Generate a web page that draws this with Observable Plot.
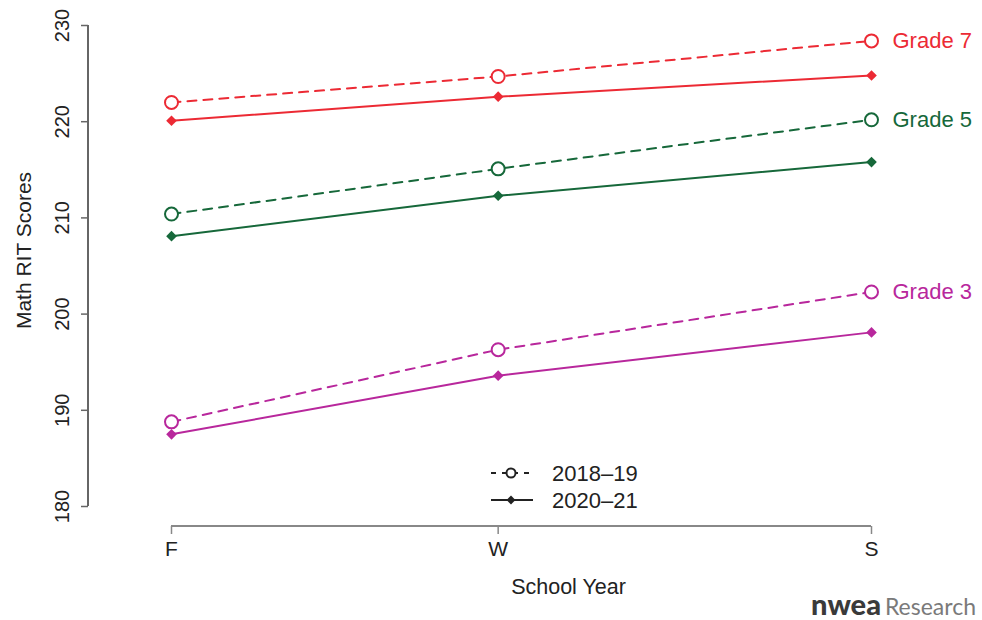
<!DOCTYPE html>
<html>
<head>
<meta charset="utf-8">
<script src="https://cdn.jsdelivr.net/npm/d3@7"></script>
<script src="https://cdn.jsdelivr.net/npm/@observablehq/plot@0.6"></script>
<style>
  html, body { margin: 0; padding: 0; background: #fff; }
  #chart { width: 982px; height: 620px; overflow: hidden; }
</style>
</head>
<body>
<div id="chart"></div>
<script>
// ---- data ----
const terms = ["F", "W", "S"];
const termWeeks = [3, 17, 33];             // approximate week of each test window
const grades = ["Grade 7", "Grade 5", "Grade 3"];
const gradeColors = ["#ec2a34", "#16683a", "#b8279c"];
const years = ["2018–19", "2020–21"];
const yTicks = [180, 190, 200, 210, 220, 230];
const xTitle = "School Year";
const yTitle = "Math RIT Scores";

const g7_1819 = [222.0, 224.7, 228.4];
const g7_2021 = [220.1, 222.6, 224.8];
const g5_1819 = [210.4, 215.1, 220.2];
const g5_2021 = [208.1, 212.3, 215.8];
const g3_1819 = [188.8, 196.3, 202.3];
const g3_2021 = [187.5, 193.6, 198.1];

const series = [
  {grade: "Grade 7", year: years[0], values: g7_1819},
  {grade: "Grade 7", year: years[1], values: g7_2021},
  {grade: "Grade 5", year: years[0], values: g5_1819},
  {grade: "Grade 5", year: years[1], values: g5_2021},
  {grade: "Grade 3", year: years[0], values: g3_1819},
  {grade: "Grade 3", year: years[1], values: g3_2021}
];
const rows = series.flatMap(s => s.values.map((v, i) => ({
  grade: s.grade, year: s.year, term: terms[i], week: termWeeks[i], score: v
})));
const old = rows.filter(d => d.year === years[0]);
const cur = rows.filter(d => d.year === years[1]);

// ---- layout ----
const W = 982, H = 620;
const mLeft = 88, mRight = 28, mTop = 0, mBottom = 94;
const font = "'Liberation Sans', Arial, Helvetica, sans-serif";

const chart = Plot.plot({
  width: W, height: H,
  marginLeft: mLeft, marginRight: mRight, marginTop: mTop, marginBottom: mBottom,
  style: {fontFamily: font, background: "#fff", color: "#222"},
  x: {type: "linear", domain: [termWeeks[0], termWeeks[2]], range: [171, 871]},
  y: {domain: [yTicks[0], yTicks[yTicks.length - 1]], range: [506, 25]},
  color: {domain: grades, range: gradeColors},
  marks: [
    Plot.axisY({ticks: yTicks, tickSize: 7, tickPadding: 13, tickRotate: -90,
      fontSize: 20, stroke: "#666", strokeWidth: 1.5, label: null}),
    Plot.axisX({ticks: termWeeks, tickFormat: d => terms[termWeeks.indexOf(d)],
      tickSize: 8, tickPadding: 7, fontSize: 21, stroke: "#888", strokeWidth: 1.5, label: null}),
    Plot.text([yTitle], {frameAnchor: "left", text: d => d, rotate: -90, dx: -64, dy: -13,
      fontSize: 21, fill: "#222", textAnchor: "middle", lineAnchor: "middle"}),
    Plot.text([xTitle], {frameAnchor: "bottom", text: d => d, dx: 47, dy: 61,
      fontSize: 21.5, fill: "#222", textAnchor: "middle", lineAnchor: "middle"}),
    Plot.line(old, {x: "week", y: "score", z: "grade", stroke: "grade", strokeWidth: 2, strokeDasharray: "9,7"}),
    Plot.line(cur, {x: "week", y: "score", z: "grade", stroke: "grade", strokeWidth: 2}),
    Plot.dot(old, {x: "week", y: "score", symbol: "circle", r: 6.5, stroke: "grade", fill: "white", strokeWidth: 2}),
    Plot.dot(cur, {x: "week", y: "score", symbol: "diamond2", r: 4.8, fill: "grade"}),
    Plot.text(old.filter(d => d.term === terms[2]), {x: "week", y: "score", text: "grade", fill: "grade",
      textAnchor: "start", dx: 21, fontSize: 22})
  ]
});
document.getElementById("chart").appendChild(chart);

// axis lines (R style, spanning only the tick range), positioned through the Plot scales
const sx = chart.scale("x"), sy = chart.scale("y");
const svg = d3.select(chart);
const axisY0 = H - mBottom;
svg.append("line")
  .attr("x1", sx.apply(termWeeks[0])).attr("x2", sx.apply(termWeeks[2]))
  .attr("y1", axisY0).attr("y2", axisY0)
  .attr("stroke", "#888").attr("stroke-width", 2);
svg.append("line")
  .attr("x1", mLeft).attr("x2", mLeft)
  .attr("y1", sy.apply(yTicks[0])).attr("y2", sy.apply(yTicks[yTicks.length - 1]))
  .attr("stroke", "#666").attr("stroke-width", 2);

// legend
const leg = svg.append("g").attr("font-family", font).attr("font-size", 22)
  .attr("fill", "#222").attr("text-anchor", "start");
const legRows = [
  {label: years[0], dash: "5,6", y: 473},
  {label: years[1], dash: null, y: 500}
];
legRows.forEach((r, i) => {
  leg.append("line").attr("x1", 491).attr("x2", 533).attr("y1", r.y).attr("y2", r.y)
    .attr("stroke", "#222").attr("stroke-width", 2).attr("stroke-dasharray", r.dash);
  if (i === 0) {
    leg.append("circle").attr("cx", 511).attr("cy", r.y).attr("r", 4.5)
      .attr("fill", "white").attr("stroke", "#222").attr("stroke-width", 2);
  } else {
    leg.append("path").attr("d", d3.symbol(d3.symbolDiamond2, 50)())
      .attr("transform", `translate(511,${r.y})`).attr("fill", "#222");
  }
  leg.append("text").attr("x", 552).attr("y", r.y).attr("dy", "0.35em").text(r.label);
});

// logo
svg.append("text").attr("x", 881).attr("y", 615).attr("text-anchor", "end")
  .attr("font-family", "Lato, sans-serif").attr("font-weight", 900)
  .attr("font-size", 29).attr("fill", "#3a3a3a").text("nwea");
svg.append("text").attr("x", 976).attr("y", 615).attr("text-anchor", "end")
  .attr("font-family", "Lato, sans-serif").attr("font-weight", 400)
  .attr("font-size", 23).attr("fill", "#7a7a7a").text("Research");
</script>
</body>
</html>
